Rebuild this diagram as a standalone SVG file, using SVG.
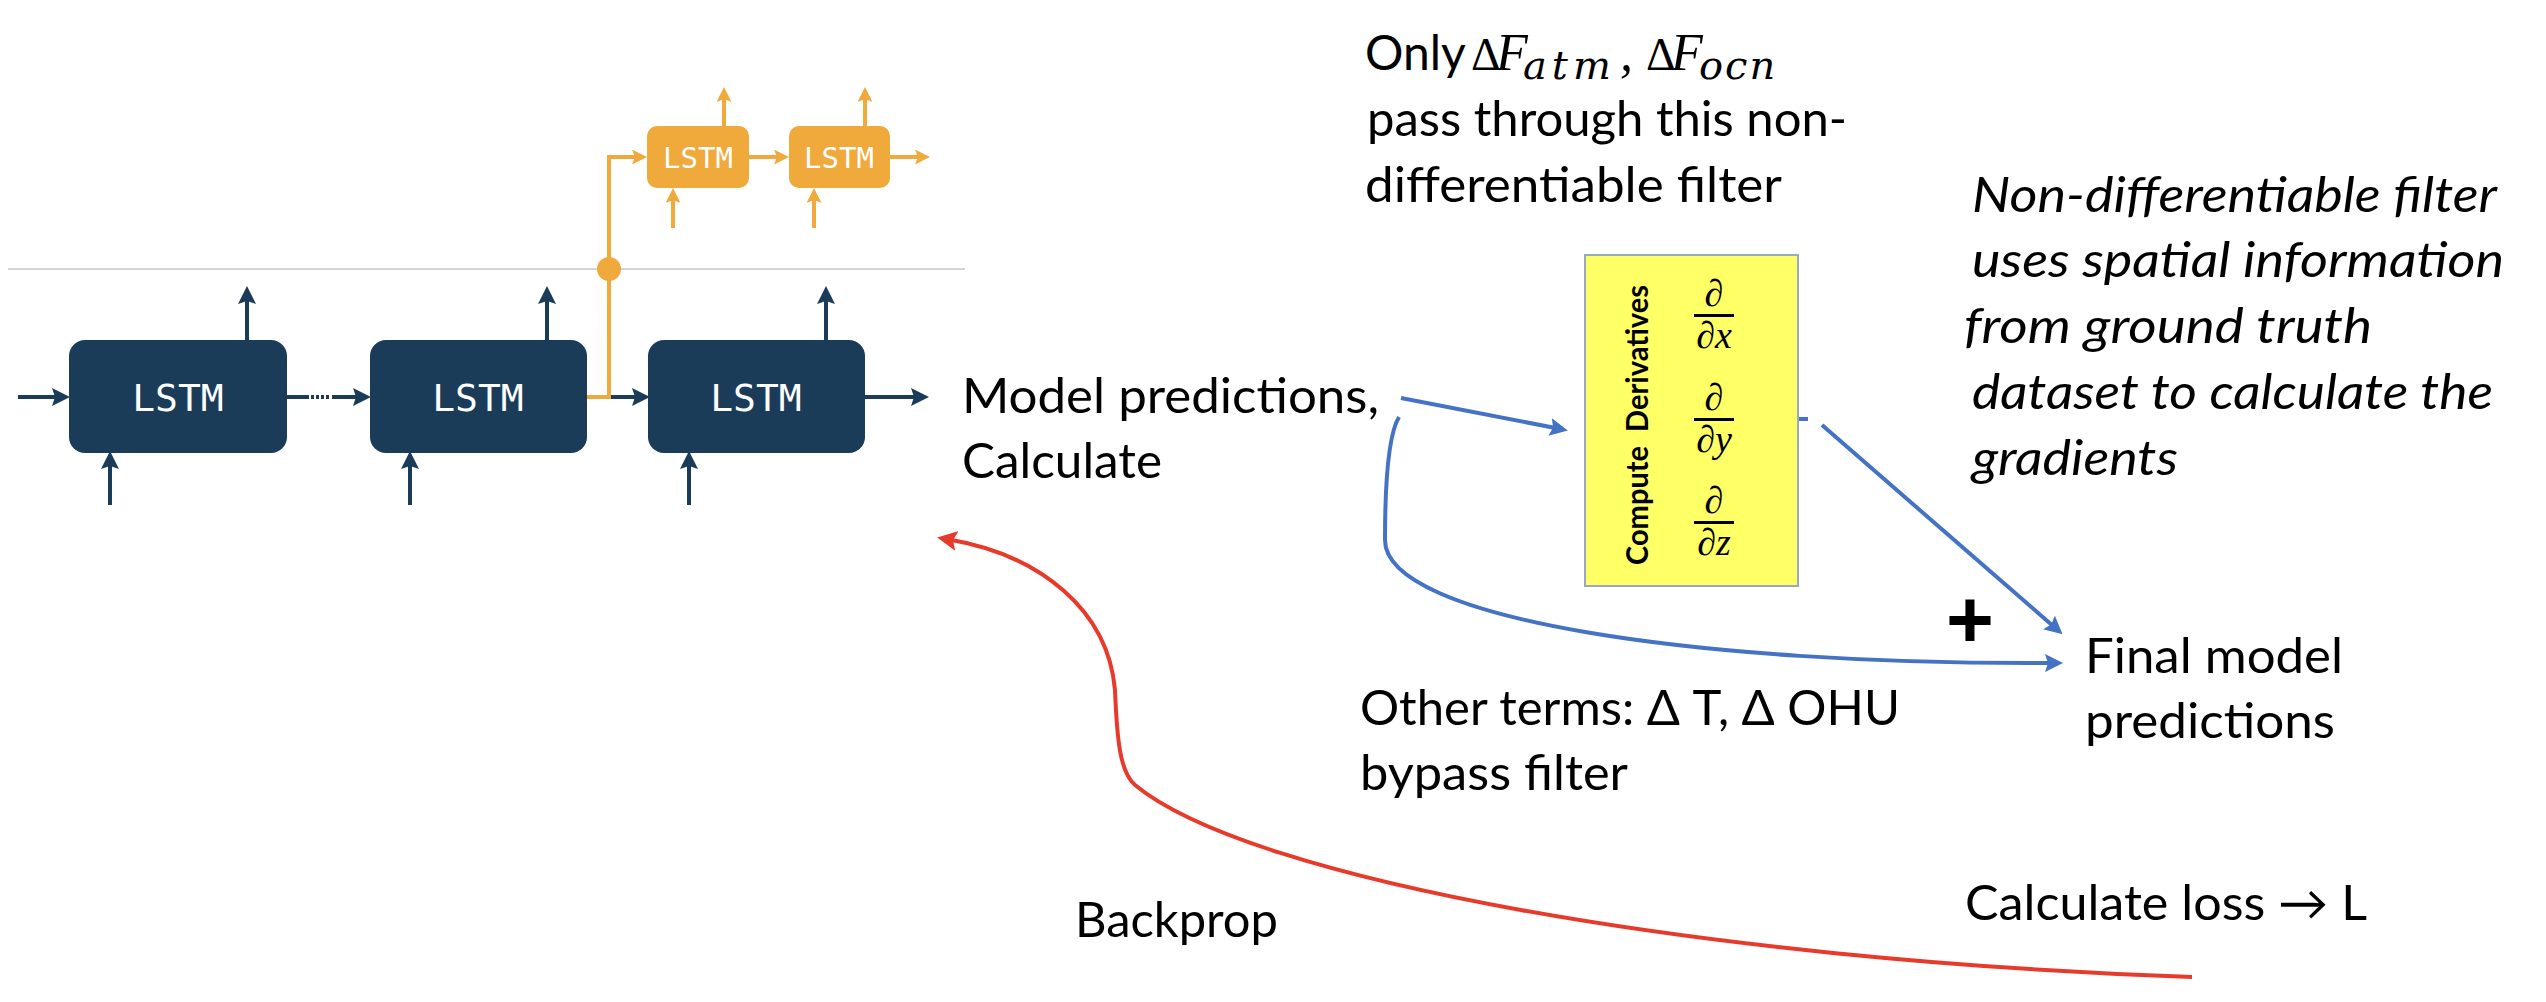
<svg xmlns="http://www.w3.org/2000/svg" width="2546" height="1002" viewBox="0 0 2546 1002">
<style>
.nv{fill:#1B3C59}
.or{fill:#F0A93B}
.lt{fill:#fff;font-family:"DejaVu Sans Mono","Liberation Mono",monospace;text-anchor:middle}
.tx{font-family:Lato,"Open Sans",sans-serif;font-size:48px;fill:#000}
.it{font-style:italic}
.mth{font-family:"Liberation Serif","DejaVu Serif",serif;fill:#000}
.sub{font-family:"DejaVu Serif","Liberation Serif",serif;font-style:italic;font-size:40px}
.cn{fill:none;stroke-width:4}
.cnv{stroke:#1B3C59}
.cor{stroke:#F0A93B}
.cbl{stroke:#4472C4}
.cre{stroke:#E83A2A}
</style>
<defs>
<marker id="aNv" markerUnits="userSpaceOnUse" markerWidth="18" markerHeight="18" refX="8" refY="9" orient="auto" viewBox="0 0 18 18"><path d="M0,0 L18,9 L0,18 L3,9 Z" fill="#1B3C59"/></marker>
<marker id="aOr" markerUnits="userSpaceOnUse" markerWidth="15" markerHeight="15" refX="7" refY="7.5" orient="auto" viewBox="0 0 15 15"><path d="M0,0 L15,7.5 L0,15 L3,7.5 Z" fill="#F0A93B"/></marker>
<marker id="aBl" markerUnits="userSpaceOnUse" markerWidth="18" markerHeight="18" refX="8" refY="9" orient="auto" viewBox="0 0 18 18"><path d="M0,0 L18,9 L0,18 L3,9 Z" fill="#4472C4"/></marker>
<marker id="aRe" markerUnits="userSpaceOnUse" markerWidth="20" markerHeight="20" refX="8" refY="10" orient="auto" viewBox="0 0 20 20"><path d="M0,0 L20,10 L0,20 L4,10 Z" fill="#E83A2A"/></marker>
</defs>
<rect x="0" y="0" width="2546" height="1002" fill="#fff"/>
<line x1="8" y1="269" x2="965" y2="269" stroke="#d4d4d4" stroke-width="2"/>

<g id="connectors">
<line class="cn cnv" x1="18" y1="397" x2="60" y2="397" marker-end="url(#aNv)"/>
<line class="cn cnv" x1="247" y1="340" x2="247" y2="296" marker-end="url(#aNv)"/>
<line class="cn cnv" x1="110" y1="505" x2="110" y2="461" marker-end="url(#aNv)"/>
<line class="cn cnv" x1="287" y1="397" x2="309" y2="397"/>
<line class="cn cnv" x1="311" y1="397" x2="331" y2="397" stroke-dasharray="3 2"/>
<line class="cn cnv" x1="332" y1="397" x2="361" y2="397" marker-end="url(#aNv)"/>
<line class="cn cnv" x1="547" y1="340" x2="547" y2="296" marker-end="url(#aNv)"/>
<line class="cn cnv" x1="410" y1="505" x2="410" y2="461" marker-end="url(#aNv)"/>
<line class="cn cnv" x1="611" y1="397" x2="640" y2="397" marker-end="url(#aNv)"/>
<line class="cn cnv" x1="826" y1="340" x2="826" y2="296" marker-end="url(#aNv)"/>
<line class="cn cnv" x1="689" y1="505" x2="689" y2="461" marker-end="url(#aNv)"/>
<line class="cn cnv" x1="865" y1="397" x2="919" y2="397" marker-end="url(#aNv)"/>
<path class="cn cor" d="M587,397 L609,397 L609,157 L639,157" marker-end="url(#aOr)"/>
<circle cx="609" cy="269" r="12" fill="#F0A93B"/>
<line class="cn cor" x1="724" y1="126" x2="724" y2="95" marker-end="url(#aOr)"/>
<line class="cn cor" x1="673" y1="228" x2="673" y2="196" marker-end="url(#aOr)"/>
<line class="cn cor" x1="749" y1="157" x2="781" y2="157" marker-end="url(#aOr)"/>
<line class="cn cor" x1="865" y1="126" x2="865" y2="95" marker-end="url(#aOr)"/>
<line class="cn cor" x1="814" y1="228" x2="814" y2="196" marker-end="url(#aOr)"/>
<line class="cn cor" x1="890" y1="157" x2="922" y2="157" marker-end="url(#aOr)"/>
<line class="cn cbl" x1="1401" y1="398" x2="1558" y2="428.5" marker-end="url(#aBl)"/>
<path class="cn cbl" stroke-width="5" d="M1399,417 Q1385,440 1385,540 C1385,620 1700,665 2053,663" marker-end="url(#aBl)"/>
<line class="cn cbl" x1="1799" y1="419" x2="1808" y2="419" stroke-width="3"/>
<line class="cn cbl" x1="1822" y1="425" x2="2055" y2="627.7" marker-end="url(#aBl)"/>
<path class="cn cre" stroke-width="5" d="M2192,977 C1700,960 1250,880 1135,785 C1120,772 1117,740 1115,690 C1108,610 1040,555 949,539.5" marker-end="url(#aRe)"/>
</g>

<g id="lstm1"><rect class="nv" x="69" y="340" width="218" height="113" rx="16"/><text class="lt" x="178" y="411" font-size="38">LSTM</text></g>
<g id="lstm2"><rect class="nv" x="370" y="340" width="217" height="113" rx="16"/><text class="lt" x="478" y="411" font-size="38">LSTM</text></g>
<g id="lstm3"><rect class="nv" x="648" y="340" width="217" height="113" rx="16"/><text class="lt" x="756" y="411" font-size="38">LSTM</text></g>
<g id="lstm-o1"><rect class="or" x="647" y="126" width="102" height="62" rx="10"/><text class="lt" x="698" y="168" font-size="29">LSTM</text></g>
<g id="lstm-o2"><rect class="or" x="789" y="126" width="101" height="62" rx="10"/><text class="lt" x="839" y="168" font-size="29">LSTM</text></g>

<g id="filter-note">
<text class="mth" y="70" font-size="52"><tspan x="1365" font-family="Lato,'Open Sans',sans-serif" font-size="48">Only</tspan><tspan x="1471" font-size="46">Δ</tspan><tspan x="1496" class="it">F</tspan><tspan x="1523" y="79" class="sub" letter-spacing="5">atm</tspan><tspan x="1620" y="70" class="it">,</tspan><tspan x="1646" font-size="46">Δ</tspan><tspan x="1671" class="it">F</tspan><tspan x="1699" y="79" class="sub" letter-spacing="2">ocn</tspan></text>
<text class="tx" x="1367" y="136" textLength="480" lengthAdjust="spacingAndGlyphs">pass through this non-</text>
<text class="tx" x="1365" y="202" textLength="417" lengthAdjust="spacingAndGlyphs">differentiable filter</text>
</g>

<g id="filter-box">
<rect x="1585" y="255" width="213" height="331" fill="#FFFF66" stroke="#9AA8C0" stroke-width="2"/>
<text transform="translate(1648,565) rotate(-90)" font-family="Lato,'Open Sans',sans-serif" font-weight="bold" font-size="31" textLength="280" lengthAdjust="spacingAndGlyphs" style="white-space:pre">Compute  Derivatives</text>
<g class="mth it" font-size="38" text-anchor="middle">
<text x="1714" y="306">∂</text>
<rect x="1694" y="314" width="40" height="3" fill="#000"/>
<text x="1714" y="348">∂x</text>
<text x="1714" y="410">∂</text>
<rect x="1694" y="418" width="40" height="3" fill="#000"/>
<text x="1714" y="452">∂y</text>
<text x="1714" y="513">∂</text>
<rect x="1694" y="521" width="40" height="3" fill="#000"/>
<text x="1714" y="555">∂z</text>
</g>
</g>

<g id="model-predictions">
<text class="tx" x="962" y="413" textLength="417" lengthAdjust="spacingAndGlyphs">Model predictions,</text>
<text class="tx" x="962" y="478" textLength="200" lengthAdjust="spacingAndGlyphs">Calculate</text>
</g>

<g id="gradient-note">
<text class="tx it" x="1972" y="212" textLength="525" lengthAdjust="spacingAndGlyphs">Non-differentiable filter</text>
<text class="tx it" x="1972" y="277" textLength="532" lengthAdjust="spacingAndGlyphs">uses spatial information</text>
<text class="tx it" x="1964" y="343" textLength="408" lengthAdjust="spacingAndGlyphs">from ground truth</text>
<text class="tx it" x="1972" y="409" textLength="521" lengthAdjust="spacingAndGlyphs">dataset to calculate the</text>
<text class="tx it" x="1972" y="475" textLength="206" lengthAdjust="spacingAndGlyphs">gradients</text>
</g>

<g id="bypass-note">
<text class="tx" x="1360" y="725" textLength="540" lengthAdjust="spacingAndGlyphs">Other terms: Δ T, Δ OHU</text>
<text class="tx" x="1360" y="790" textLength="268" lengthAdjust="spacingAndGlyphs">bypass filter</text>
</g>

<g id="plus"><text x="1970" y="647" font-family="'Liberation Sans',Arial,sans-serif" font-weight="bold" font-size="82" text-anchor="middle">+</text></g>

<g id="final-predictions">
<text class="tx" x="2085" y="673" textLength="258" lengthAdjust="spacingAndGlyphs">Final model</text>
<text class="tx" x="2085" y="738" textLength="250" lengthAdjust="spacingAndGlyphs">predictions</text>
</g>

<g id="loss"><text class="tx" x="1965" y="920" textLength="402" lengthAdjust="spacingAndGlyphs">Calculate loss → L</text></g>
<g id="backprop"><text class="tx" x="1075" y="937" textLength="203" lengthAdjust="spacingAndGlyphs">Backprop</text></g>
</svg>
